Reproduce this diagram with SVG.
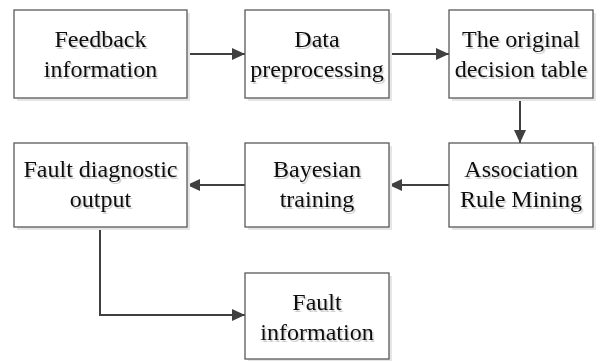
<svg xmlns="http://www.w3.org/2000/svg" width="597" height="361" viewBox="0 0 597 361">
<defs>
<style>
.box{fill:#fff;stroke:#595959;stroke-width:1.3}
.sh{fill:#e6e6e6}
text{font-family:'Liberation Serif','Times New Roman',Times,serif;font-size:24px;text-anchor:middle;fill:#111}
.c{fill:none;stroke:#404040;stroke-width:2}
</style>
<filter id="ts" x="-10%" y="-30%" width="120%" height="160%">
<feDropShadow dx="1.5" dy="2" stdDeviation="0.6" flood-color="#000" flood-opacity="0.2"/>
</filter>
<marker id="ah" viewBox="0 0 13 12" refX="13" refY="6" markerWidth="13" markerHeight="12" markerUnits="userSpaceOnUse" orient="auto">
<path d="M0,0 L13,6 L0,12 Z" fill="#404040"/>
</marker>
</defs>
<rect width="597" height="361" fill="#fff"/>
<g id="connectors">
<line class="c" x1="187" y1="54" x2="245" y2="54" marker-end="url(#ah)"/>
<line class="c" x1="389" y1="54" x2="449" y2="54" marker-end="url(#ah)"/>
<line class="c" x1="520" y1="98" x2="520" y2="143" marker-end="url(#ah)"/>
<line class="c" x1="449" y1="185" x2="389" y2="185" marker-end="url(#ah)"/>
<line class="c" x1="245" y1="185" x2="187" y2="185" marker-end="url(#ah)"/>
<polyline class="c" points="100,227 100,315 245,315" marker-end="url(#ah)"/>
</g>
<g id="n1">
<rect class="sh" x="17" y="13" width="173" height="88"/>
<rect class="box" x="14" y="10" width="173" height="88"/>
<text x="100.5" y="47" filter="url(#ts)">Feedback</text>
<text x="100.5" y="77" filter="url(#ts)">information</text>
</g>
<g id="n2">
<rect class="sh" x="248" y="13" width="144" height="88"/>
<rect class="box" x="245" y="10" width="144" height="88"/>
<text x="317" y="47" filter="url(#ts)">Data</text>
<text x="317" y="77" filter="url(#ts)">preprocessing</text>
</g>
<g id="n3">
<rect class="sh" x="452" y="13" width="144" height="88"/>
<rect class="box" x="449" y="10" width="144" height="88"/>
<text x="521" y="47" filter="url(#ts)">The original</text>
<text x="521" y="77" filter="url(#ts)">decision table</text>
</g>
<g id="n4">
<rect class="sh" x="452" y="146" width="144" height="84"/>
<rect class="box" x="449" y="143" width="144" height="84"/>
<text x="521" y="177" filter="url(#ts)">Association</text>
<text x="521" y="207" filter="url(#ts)">Rule Mining</text>
</g>
<g id="n5">
<rect class="sh" x="248" y="146" width="144" height="84"/>
<rect class="box" x="245" y="143" width="144" height="84"/>
<text x="317" y="177" filter="url(#ts)">Bayesian</text>
<text x="317" y="207" filter="url(#ts)">training</text>
</g>
<g id="n6">
<rect class="sh" x="17" y="146" width="173" height="84"/>
<rect class="box" x="14" y="143" width="173" height="84"/>
<text x="100.5" y="177" filter="url(#ts)">Fault diagnostic</text>
<text x="100.5" y="207" filter="url(#ts)">output</text>
</g>
<g id="n7">
<rect class="sh" x="248" y="276" width="144" height="86"/>
<rect class="box" x="245" y="273" width="144" height="86"/>
<text x="317" y="310" filter="url(#ts)">Fault</text>
<text x="317" y="340" filter="url(#ts)">information</text>
</g>
</svg>
